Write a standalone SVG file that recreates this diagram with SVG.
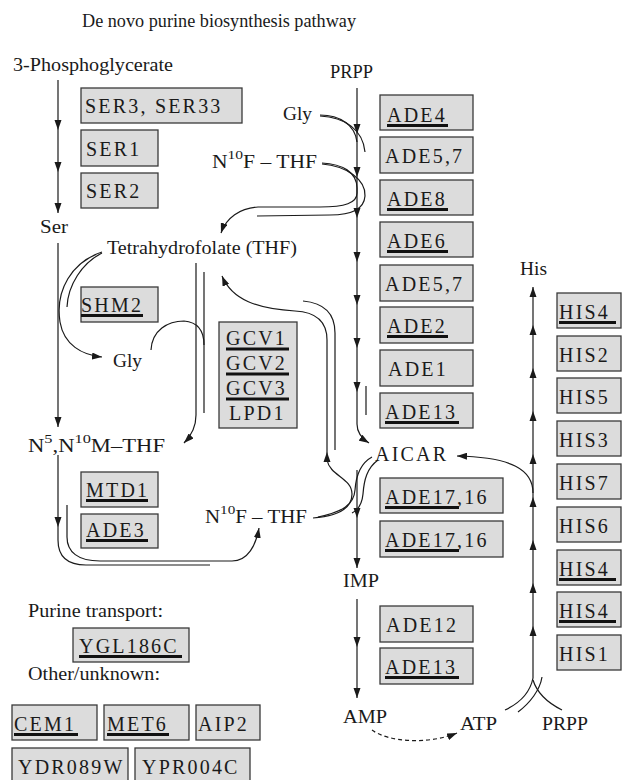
<svg xmlns="http://www.w3.org/2000/svg" xmlns:xlink="http://www.w3.org/1999/xlink" width="623" height="780" viewBox="0 0 623 780">
<style>
.lbl{font-family:"Liberation Serif","Times New Roman",serif;font-size:18px;fill:#1a1a1a}
.gene{font-family:"Liberation Serif","Times New Roman",serif;font-size:20px;letter-spacing:2.2px;fill:#1a1a1a}
.box{fill:#dcdcdc;stroke:#3a3a3a;stroke-width:1.3}
.ul{stroke:#111;stroke-width:3}
.ln{fill:none;stroke:#1a1a1a;stroke-width:1.2}
.ah{fill:#1a1a1a}
</style>
<defs>
<marker id="arr" markerWidth="10" markerHeight="7" refX="10" refY="3.5" orient="auto" markerUnits="userSpaceOnUse"><path d="M0,0 L10,3.5 L0,7 Z" fill="#1a1a1a"/></marker>
<path id="ad" d="M0,0 L-3.5,-10 L3.5,-10 Z"/>
<path id="au" d="M0,0 L-3.5,10 L3.5,10 Z"/>
</defs>
<rect width="623" height="780" fill="#ffffff"/>

<g id="title"><text class="lbl" x="82" y="27" font-size="16.5" textLength="274" lengthAdjust="spacingAndGlyphs">De novo purine biosynthesis pathway</text></g>

<g id="connectors">
<path class="ln" d="M58,80 L58,213"/>
<use href="#ad" class="ah" x="58" y="130"/><use href="#ad" class="ah" x="58" y="172"/><use href="#ad" class="ah" x="58" y="213"/>
<path class="ln" d="M58,243 L58,427"/>
<use href="#ad" class="ah" x="58" y="427"/>
<path class="ln" d="M102,252 C72,262 55,290 60,322 C64,345 82,355 102,357" marker-end="url(#arr)"/>
<path class="ln" d="M102,253 C82,263 68,285 67,307"/>
<path class="ln" d="M196,263 L196,415 C196,428 191,436 184,443" marker-end="url(#arr)"/>
<path class="ln" d="M204,272 L204,413"/>
<path class="ln" d="M151,350 C152,330 168,321 184,321 C197,322 204,330 204,345"/>
<path class="ln" d="M58,455 L58,540 C58,557 67,565 86,565 L210,565"/>
<use href="#ad" class="ah" x="58" y="527"/>
<path class="ln" d="M67,505 L67,537 C67,552 78,561 100,561 L232,561 C248,561 256,545 259,528" marker-end="url(#arr)"/>
<path class="ln" d="M357,88 L357,424 C357,432 361,438 369,443" marker-end="url(#arr)"/>
<use href="#ad" class="ah" x="357" y="134"/><use href="#ad" class="ah" x="357" y="177"/><use href="#ad" class="ah" x="357" y="218"/><use href="#ad" class="ah" x="357" y="262"/><use href="#ad" class="ah" x="357" y="305"/><use href="#ad" class="ah" x="357" y="348"/><use href="#ad" class="ah" x="357" y="392"/>
<path class="ln" d="M366,386 L366,415"/>
<path class="ln" d="M320,115 C340,115 355,125 357,142"/>
<path class="ln" d="M320,116 C345,117 363,130 365,152"/>
<path class="ln" d="M322,163 C342,164 357,172 357,188 L357,193 C357,203 345,207 320,207 L258,207 C240,208 226,218 221,233" marker-end="url(#arr)"/>
<path class="ln" d="M322,164 C347,166 366,180 365,196 C364,210 350,215 330,215 L257,216"/>
<path class="ln" d="M313,518 C338,516 352,508 352,494 C352,478 330,476 327,460 L327,340 C327,320 315,312 295,311 C258,309 232,300 222,276" marker-end="url(#arr)"/>
<use href="#au" class="ah" x="327" y="452"/>
<path class="ln" d="M303,301 C325,303 335,314 335,333 L335,450"/>
<path class="ln" d="M372,457 C361,463 356,476 355,490 C354,505 342,512 318,517"/>
<path class="ln" d="M378,460 C367,468 364,480 363,494 C362,505 358,510 352,513"/>
<path class="ln" d="M357,470 L357,568"/>
<use href="#ad" class="ah" x="357" y="518"/><use href="#ad" class="ah" x="357" y="568"/>
<path class="ln" d="M357,599 L357,698"/>
<use href="#ad" class="ah" x="357" y="647"/><use href="#ad" class="ah" x="357" y="698"/>
<path class="ln" d="M372,730 C388,742 428,745 457,733" stroke-dasharray="4,3" marker-end="url(#arr)"/>
<path class="ln" d="M533,678 L533,287"/>
<use href="#au" class="ah" x="533" y="287"/><use href="#au" class="ah" x="533" y="325"/><use href="#au" class="ah" x="533" y="368"/><use href="#au" class="ah" x="533" y="411"/><use href="#au" class="ah" x="533" y="454"/><use href="#au" class="ah" x="533" y="497"/><use href="#au" class="ah" x="533" y="540"/><use href="#au" class="ah" x="533" y="583"/><use href="#au" class="ah" x="533" y="626"/>
<path class="ln" d="M533,493 C533,470 512,457 457,456" marker-end="url(#arr)"/>
<path class="ln" d="M505,710 C520,703 530,693 533,678"/>
<path class="ln" d="M518,712 C530,703 540,690 542,677"/>
<path class="ln" d="M562,710 C548,703 537,693 533,680"/>
</g>

<g id="n-3pg"><text class="lbl" x="13" y="71" textLength="160" lengthAdjust="spacingAndGlyphs">3-Phosphoglycerate</text></g>
<g id="n-ser"><text class="lbl" x="40" y="233" textLength="28" lengthAdjust="spacingAndGlyphs">Ser</text></g>
<g id="n-thf"><text class="lbl" x="107" y="254" textLength="190" lengthAdjust="spacingAndGlyphs">Tetrahydrofolate (THF)</text></g>
<g id="n-gly-mid"><text class="lbl" x="113" y="367" textLength="29" lengthAdjust="spacingAndGlyphs">Gly</text></g>
<g id="n-mthf"><text class="lbl" x="28" y="452" textLength="137" lengthAdjust="spacingAndGlyphs">N<tspan dy="-9" font-size="13">5</tspan><tspan dy="9">,N</tspan><tspan dy="-9" font-size="13">10</tspan><tspan dy="9">M–THF</tspan></text></g>
<g id="n-fthf-low"><text class="lbl" x="205" y="523" textLength="102" lengthAdjust="spacingAndGlyphs">N<tspan dy="-9" font-size="13">10</tspan><tspan dy="9">F – THF</tspan></text></g>
<g id="n-prpp-top"><text class="lbl" x="330" y="78" textLength="43" lengthAdjust="spacingAndGlyphs">PRPP</text></g>
<g id="n-gly-top"><text class="lbl" x="283" y="120" textLength="29" lengthAdjust="spacingAndGlyphs">Gly</text></g>
<g id="n-fthf-top"><text class="lbl" x="212" y="168" textLength="105" lengthAdjust="spacingAndGlyphs">N<tspan dy="-9" font-size="13">10</tspan><tspan dy="9">F – THF</tspan></text></g>
<g id="n-aicar"><text class="gene" x="375" y="461">AICAR</text></g>
<g id="n-imp"><text class="lbl" x="343" y="587" textLength="36" lengthAdjust="spacingAndGlyphs">IMP</text></g>
<g id="n-amp"><text class="lbl" x="343" y="723" textLength="44" lengthAdjust="spacingAndGlyphs">AMP</text></g>
<g id="n-atp"><text class="lbl" x="460" y="730" textLength="37" lengthAdjust="spacingAndGlyphs">ATP</text></g>
<g id="n-prpp-bot"><text class="lbl" x="542" y="730" textLength="46" lengthAdjust="spacingAndGlyphs">PRPP</text></g>
<g id="n-his"><text class="lbl" x="520" y="275" textLength="27" lengthAdjust="spacingAndGlyphs">His</text></g>
<g id="n-purine-transport"><text class="lbl" x="28" y="617" textLength="135" lengthAdjust="spacingAndGlyphs">Purine transport:</text></g>
<g id="n-other"><text class="lbl" x="28" y="680" textLength="132" lengthAdjust="spacingAndGlyphs">Other/unknown:</text></g>

<g id="g-ser3"><rect class="box" x="81" y="88" width="161" height="35"/><text class="gene" x="85" y="113">SER3, SER33</text></g>
<g id="g-ser1"><rect class="box" x="81" y="130" width="77" height="36"/><text class="gene" x="86" y="156">SER1</text></g>
<g id="g-ser2"><rect class="box" x="81" y="173" width="77" height="35"/><text class="gene" x="86" y="198">SER2</text></g>
<g id="g-shm2"><rect class="box" x="81" y="287" width="77" height="35"/><text class="gene" x="81" y="312">SHM2</text><line class="ul" x1="81" y1="315.5" x2="143" y2="315.5"/></g>
<g id="g-gcv"><rect class="box" x="219" y="322" width="78" height="106"/>
<text class="gene" x="226" y="345">GCV1</text><line class="ul" x1="226" y1="349" x2="289" y2="349"/>
<text class="gene" x="226" y="370">GCV2</text><line class="ul" x1="226" y1="374" x2="289" y2="374"/>
<text class="gene" x="226" y="395">GCV3</text><line class="ul" x1="226" y1="399" x2="289" y2="399"/>
<text class="gene" x="229" y="420">LPD1</text></g>
<g id="g-mtd1"><rect class="box" x="81" y="472" width="77" height="35"/><text class="gene" x="86" y="497">MTD1</text><line class="ul" x1="86" y1="500.5" x2="148" y2="500.5"/></g>
<g id="g-ade3"><rect class="box" x="81" y="514" width="77" height="34"/><text class="gene" x="86" y="537">ADE3</text><line class="ul" x1="86" y1="540.5" x2="148" y2="540.5"/></g>

<g id="g-ade4"><rect class="box" x="380" y="95" width="93" height="35"/><text class="gene" x="387" y="122">ADE4</text><line class="ul" x1="387" y1="125.5" x2="448" y2="125.5"/></g>
<g id="g-ade57a"><rect class="box" x="380" y="137" width="93" height="36"/><text class="gene" x="385" y="163">ADE5,7</text></g>
<g id="g-ade8"><rect class="box" x="380" y="180" width="93" height="35"/><text class="gene" x="387" y="206">ADE8</text><line class="ul" x1="387" y1="209.5" x2="448" y2="209.5"/></g>
<g id="g-ade6"><rect class="box" x="380" y="222" width="93" height="35"/><text class="gene" x="387" y="248">ADE6</text><line class="ul" x1="387" y1="251.5" x2="448" y2="251.5"/></g>
<g id="g-ade57b"><rect class="box" x="380" y="265" width="93" height="36"/><text class="gene" x="385" y="291">ADE5,7</text></g>
<g id="g-ade2"><rect class="box" x="380" y="307" width="93" height="36"/><text class="gene" x="387" y="333">ADE2</text><line class="ul" x1="387" y1="336.5" x2="448" y2="336.5"/></g>
<g id="g-ade1"><rect class="box" x="380" y="350" width="93" height="36"/><text class="gene" x="388" y="376">ADE1</text></g>
<g id="g-ade13a"><rect class="box" x="380" y="393" width="93" height="35"/><text class="gene" x="385" y="419">ADE13</text><line class="ul" x1="385" y1="422.5" x2="459" y2="422.5"/></g>
<g id="g-ade1716a"><rect class="box" x="380" y="478" width="123" height="35"/><text class="gene" x="385" y="504">ADE17,16</text><line class="ul" x1="385" y1="507.5" x2="459" y2="507.5"/></g>
<g id="g-ade1716b"><rect class="box" x="380" y="521" width="123" height="36"/><text class="gene" x="385" y="547">ADE17,16</text><line class="ul" x1="385" y1="550.5" x2="459" y2="550.5"/></g>
<g id="g-ade12"><rect class="box" x="380" y="606" width="93" height="36"/><text class="gene" x="386" y="632">ADE12</text></g>
<g id="g-ade13b"><rect class="box" x="380" y="648" width="93" height="36"/><text class="gene" x="385" y="674">ADE13</text><line class="ul" x1="385" y1="677.5" x2="459" y2="677.5"/></g>

<g id="g-his4a"><rect class="box" x="557" y="293" width="64" height="35"/><text class="gene" x="559" y="319">HIS4</text><line class="ul" x1="559" y1="322.5" x2="616" y2="322.5"/></g>
<g id="g-his2"><rect class="box" x="557" y="336" width="64" height="35"/><text class="gene" x="559" y="362">HIS2</text></g>
<g id="g-his5"><rect class="box" x="557" y="378" width="64" height="35"/><text class="gene" x="559" y="404">HIS5</text></g>
<g id="g-his3"><rect class="box" x="557" y="421" width="64" height="35"/><text class="gene" x="559" y="447">HIS3</text></g>
<g id="g-his7"><rect class="box" x="557" y="464" width="64" height="35"/><text class="gene" x="559" y="490">HIS7</text></g>
<g id="g-his6"><rect class="box" x="557" y="507" width="64" height="35"/><text class="gene" x="559" y="533">HIS6</text></g>
<g id="g-his4b"><rect class="box" x="557" y="550" width="64" height="35"/><text class="gene" x="559" y="576">HIS4</text><line class="ul" x1="559" y1="579.5" x2="616" y2="579.5"/></g>
<g id="g-his4c"><rect class="box" x="557" y="592" width="64" height="35"/><text class="gene" x="559" y="618">HIS4</text><line class="ul" x1="559" y1="621.5" x2="616" y2="621.5"/></g>
<g id="g-his1"><rect class="box" x="557" y="635" width="64" height="35"/><text class="gene" x="559" y="661">HIS1</text></g>

<g id="g-ygl186c"><rect class="box" x="73" y="628" width="116" height="34"/><text class="gene" x="79" y="653">YGL186C</text><line class="ul" x1="79" y1="656.5" x2="182" y2="656.5"/></g>
<g id="g-cem1"><rect class="box" x="12" y="705" width="85" height="35"/><text class="gene" x="14" y="731">CEM1</text><line class="ul" x1="14" y1="734.5" x2="78" y2="734.5"/></g>
<g id="g-met6"><rect class="box" x="104" y="705" width="85" height="35"/><text class="gene" x="107" y="731">MET6</text><line class="ul" x1="107" y1="734.5" x2="169" y2="734.5"/></g>
<g id="g-aip2"><rect class="box" x="196" y="705" width="64" height="35"/><text class="gene" x="198" y="731">AIP2</text></g>
<g id="g-ydr089w"><rect class="box" x="12" y="748" width="116" height="35"/><text class="gene" x="18" y="774">YDR089W</text></g>
<g id="g-ypr004c"><rect class="box" x="135" y="748" width="115" height="35"/><text class="gene" x="142" y="774">YPR004C</text></g>
</svg>
